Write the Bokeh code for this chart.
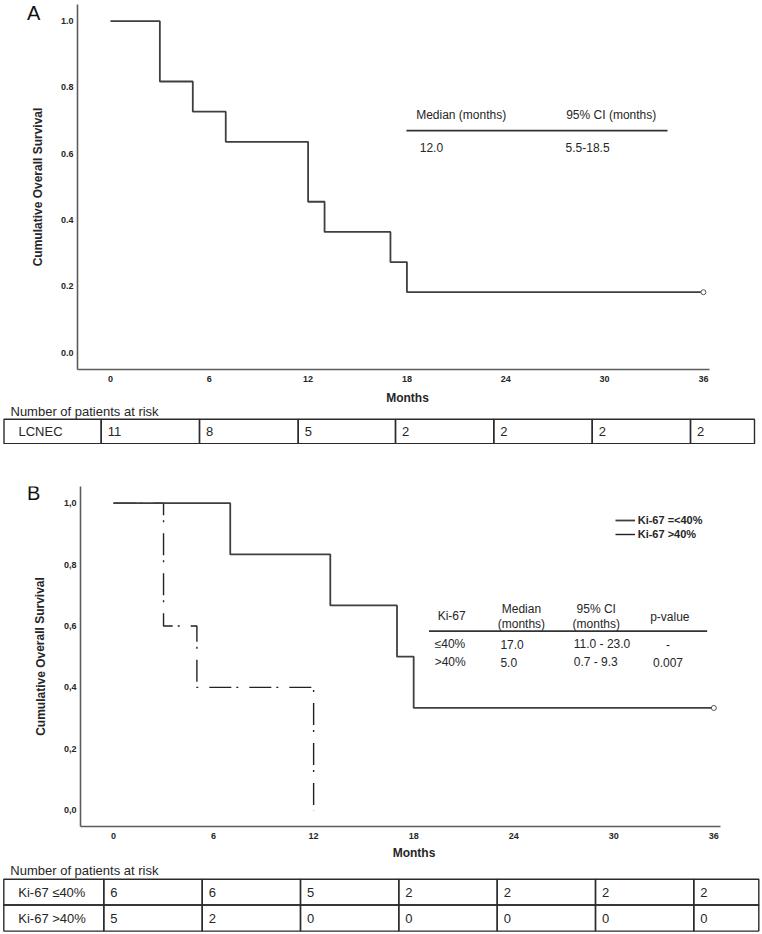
from bokeh.plotting import figure
from bokeh.models import (Range1d, FixedTicker, CustomJSTickFormatter, Label,
                          Legend, LegendItem, ColumnDataSource)
from bokeh.layouts import row
from bokeh.core.properties import value
from bokeh.embed import file_html
from bokeh.resources import INLINE

FONT = "Liberation Sans"
INK = "#262626"
CURVE = "#3f3f3f"
AXIS = "#5c5c5c"
PAGE_W = 762
SIDE_W = 56

# ---------------- data ----------------
month_ticks = [0, 6, 12, 18, 24, 30, 36]
surv_ticks = [0.0, 0.2, 0.4, 0.6, 0.8, 1.0]

# Panel A: LCNEC
a_time = [0, 3, 5, 7, 12, 13, 17, 18, 36]
a_surv = [1.0, 0.818, 0.727, 0.636, 0.455, 0.364, 0.273, 0.182, 0.182]
a_cens_time = [36]
a_cens_surv = [0.182]

a_stat_header = ["Median (months)", "95% CI (months)"]
a_stat_row = ["12.0", "5.5-18.5"]

a_risk_groups = ["LCNEC"]
a_risk = [[11, 8, 5, 2, 2, 2, 2]]

# Panel B: Ki-67
b_low_time = [0, 7, 13, 17, 18, 36]
b_low_surv = [1.0, 0.833, 0.667, 0.5, 0.333, 0.333]
b_low_cens_time = [36]
b_low_cens_surv = [0.333]
b_high_time = [0, 3, 5, 12]
b_high_surv = [1.0, 0.6, 0.4, 0.0]

b_legend = ["Ki-67 =<40%", "Ki-67 >40%"]
b_stat_cols = ["Ki-67", "Median\n(months)", "95% CI\n(months)", "p-value"]
b_stat_groups = ["\u226440%", ">40%"]
b_stat_median = ["17.0", "5.0"]
b_stat_ci = ["11.0 - 23.0", "0.7 - 9.3"]
b_stat_p = ["-", "0.007"]

b_risk_groups = ["Ki-67 \u226440%", "Ki-67 >40%"]
b_risk = [[6, 6, 5, 2, 2, 2, 2],
          [5, 2, 0, 0, 0, 0, 0]]

Y_LABEL = "Cumulative Overall Survival"
X_LABEL = "Months"
RISK_TITLE = "Number of patients at risk"


def plain(p):
    p.outline_line_color = None
    p.xgrid.visible = False
    p.ygrid.visible = False
    return p


def km_fig(height, b_top, b_bottom, b_left, b_right, xr, yr, sep):
    p = figure(width=PAGE_W - SIDE_W, height=height, x_range=Range1d(*xr), y_range=Range1d(*yr),
               output_backend="svg", toolbar_location=None,
               min_border_top=b_top, min_border_bottom=b_bottom,
               min_border_left=b_left, min_border_right=b_right)
    plain(p)
    for ax in (p.xaxis[0], p.yaxis[0]):
        ax.axis_line_color = AXIS
        ax.axis_line_width = 1.6
        ax.major_tick_line_color = None
        ax.minor_tick_line_color = None
        ax.major_tick_out = 0
        ax.major_tick_in = 0
        ax.minor_tick_out = 0
        ax.minor_tick_in = 0
        ax.major_label_text_font = FONT
        ax.major_label_text_font_style = "bold"
        ax.major_label_text_font_size = "9px"
        ax.major_label_text_color = INK
    p.xaxis[0].ticker = FixedTicker(ticks=month_ticks)
    p.yaxis[0].ticker = FixedTicker(ticks=surv_ticks)
    p.yaxis[0].formatter = CustomJSTickFormatter(
        code="return tick.toFixed(1).replace('.', '%s');" % sep)
    p.xaxis[0].major_label_standoff = 6
    p.yaxis[0].major_label_standoff = 4
    return p


def side_fig(height, b_top, b_bottom, y_bottom, y_top, letter, letter_xy, ylab_xy):
    p = figure(width=SIDE_W, height=height, x_range=Range1d(0, SIDE_W),
               y_range=Range1d(y_bottom, y_top), output_backend="svg", toolbar_location=None,
               min_border_top=b_top, min_border_bottom=b_bottom,
               min_border_left=0, min_border_right=0)
    plain(p)
    p.xaxis.visible = False
    p.yaxis.visible = False
    p.text(x=[letter_xy[0]], y=[letter_xy[1]], text=[letter], text_font=value(FONT),
           text_font_size="20px", text_align="left", text_baseline="top", text_color="#111111")
    p.text(x=[ylab_xy[0]], y=[ylab_xy[1]], text=[Y_LABEL], angle=1.5708,
           text_font=value(FONT), text_font_size="12px", text_font_style="bold",
           text_align="center", text_baseline="middle", text_color=INK)
    return p


def lab(p, x, y, text, size="12px", style="normal", align="left", baseline="middle"):
    p.add_layout(Label(x=x, y=y, text=text,
                       text_font=FONT, text_font_size=size, text_font_style=style,
                       text_align=align, text_baseline=baseline, text_color=INK))


def table_fig(top, bottom, months_x, months_y, title_y, row_edges, edges, groups, counts):
    p = figure(width=PAGE_W, height=bottom - top, x_range=Range1d(0, PAGE_W),
               y_range=Range1d(bottom, top), output_backend="svg", toolbar_location=None,
               min_border=0, min_border_left=0, min_border_right=0,
               min_border_top=0, min_border_bottom=0)
    plain(p)
    p.xaxis.visible = False
    p.yaxis.visible = False
    p.text(x=[months_x], y=[months_y], text=[X_LABEL], text_font=value(FONT),
           text_font_size="12px", text_font_style="bold", text_align="center",
           text_baseline="middle", text_color=INK)
    p.text(x=[edges[0] + 6.5], y=[title_y], text=[RISK_TITLE], text_font=value(FONT),
           text_font_size="13px", text_align="left", text_baseline="middle", text_color=INK)
    ncol = len(counts[0])
    L, R, T, B = [], [], [], []
    tx, ty, tt = [], [], []
    for r, grp in enumerate(groups):
        t0, b0 = row_edges[r], row_edges[r + 1]
        for c in range(ncol + 1):
            L.append(edges[c]); R.append(edges[c + 1]); T.append(t0); B.append(b0)
        yc = (t0 + b0) / 2
        tx.append(edges[0] + 14.5); ty.append(yc); tt.append(grp)
        for c, v in enumerate(counts[r]):
            tx.append(edges[c + 1] + 6.5); ty.append(yc); tt.append(str(v))
    p.quad(left=L, right=R, top=T, bottom=B, fill_color=None, line_color="#2b2b2b", line_width=1.4)
    src = ColumnDataSource(dict(x=tx, y=ty, t=tt))
    p.text(x="x", y="y", text="t", source=src, text_font=value(FONT),
           text_font_size="13px", text_baseline="middle", text_align="left", text_color=INK)
    return p


# ---------------- Panel A ----------------
pa = km_fig(387, 4, 18, 77 - SIDE_W, PAGE_W - 709, (-2.0, 36.37), (-0.0513, 1.0504), ".")
pa.step(a_time, a_surv, mode="after", line_color=CURVE, line_width=1.8)
pa.scatter(a_cens_time, a_cens_surv, marker="circle", size=5, fill_color="white",
           line_color="#555555", line_width=1)
lab(pa, 18.56, 0.718, a_stat_header[0])
lab(pa, 27.67, 0.718, a_stat_header[1])
pa.segment(x0=[17.97], y0=[0.670], x1=[33.82], y1=[0.670], line_color="#333333", line_width=1.8)
lab(pa, 18.78, 0.618, a_stat_row[0])
lab(pa, 27.63, 0.618, a_stat_row[1])
sa = side_fig(387, 4, 18, 369, 4, "A", (26.5, 1.5), (37.5, 186.5))

ta = table_fig(387, 444, 407, 397, 411, [418.7, 443.3],
               [3.5, 100.7, 199, 297.7, 395, 493.3, 591.7, 690, 754],
               a_risk_groups, a_risk)

# ---------------- Panel B ----------------
pb = km_fig(398, 42, 16, 80 - SIDE_W, PAGE_W - 720, (-1.98, 36.4), (-0.0531, 1.0544), ",")
rh = pb.step(b_high_time, b_high_surv, mode="after", line_color="#222222", line_width=1.4,
             line_dash="22 5 2 11")
rl = pb.step(b_low_time, b_low_surv, mode="after", line_color=CURVE, line_width=1.8)
pb.scatter(b_low_cens_time, b_low_cens_surv, marker="circle", size=5, fill_color="white",
           line_color="#555555", line_width=1)
sb = side_fig(398, 42, 16, 826, 486, "B", (26.5, 481.5), (40, 656))

legend = Legend(items=[LegendItem(label=b_legend[0], renderers=[rl]),
                       LegendItem(label=b_legend[1], renderers=[rh])],
                location=(534.7, 284.7), margin=0, padding=0, spacing=0,
                glyph_width=20, glyph_height=14, label_height=14, label_standoff=3,
                label_text_font=FONT, label_text_font_style="bold",
                label_text_font_size="11px", label_text_color=INK,
                border_line_color=None, background_fill_alpha=0)
pb.add_layout(legend)

lab(pb, 19.44, 0.634, b_stat_cols[0])
lab(pb, 24.46, 0.656, b_stat_cols[1].split("\n")[0], align="center")
lab(pb, 24.46, 0.607, b_stat_cols[1].split("\n")[1], align="center")
lab(pb, 28.95, 0.656, b_stat_cols[2].split("\n")[0], align="center")
lab(pb, 28.95, 0.607, b_stat_cols[2].split("\n")[1], align="center")
lab(pb, 33.36, 0.629, b_stat_cols[3], align="center")
pb.segment(x0=[18.92], y0=[0.583], x1=[35.6], y1=[0.583], line_color="#333333", line_width=1.8)
for r, yv in enumerate([0.540, 0.482]):
    lab(pb, 19.26, yv, b_stat_groups[r])
    lab(pb, 23.2, yv, b_stat_median[r])
    lab(pb, 27.6, yv, b_stat_ci[r])
    lab(pb, 33.25, yv, b_stat_p[r], align="center")

tb = table_fig(842, 932, 413.5, 852, 870, [878.7, 904.5, 930.6],
               [3.3, 103.3, 201.7, 300, 398.3, 496.7, 595, 693.3, 758.3],
               b_risk_groups, b_risk)

open("out.html", "w").write(file_html([row(sa, pa), ta, row(sb, pb), tb], INLINE))
